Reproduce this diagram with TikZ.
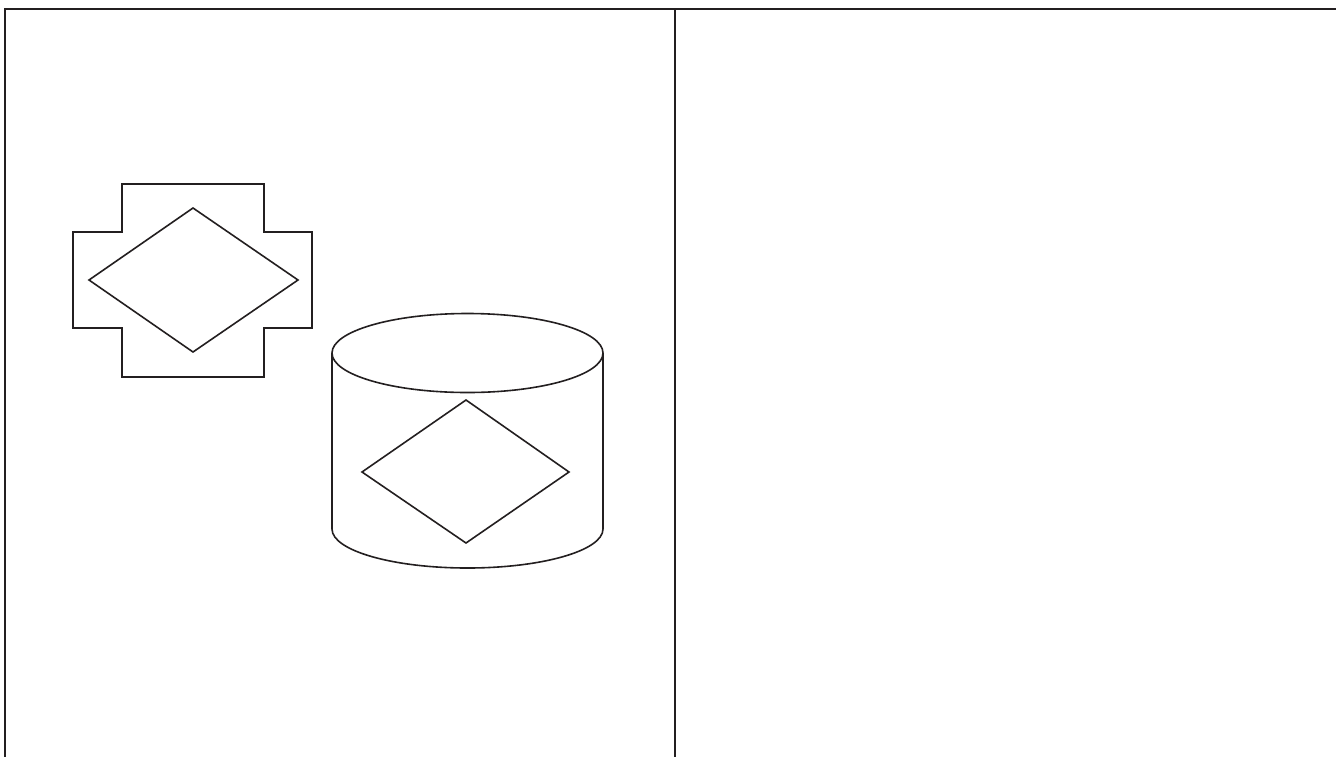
\documentclass[tikz,border=0pt]{standalone}
\definecolor{ink}{HTML}{231F20}
\tikzset{
  frame/.style={draw=ink, line width=2.5pt},
  shapeline/.style={draw=ink, line width=1.6pt, line join=miter},
}
\begin{document}
\begin{tikzpicture}[x=1pt,y=-1pt]
\useasboundingbox (0,0) rectangle (1336,756);
% frame
\coordinate (fbl) at (5,760);
\coordinate (ftl) at (5,9);
\coordinate (ftr) at (1340,9);
\coordinate (dtop) at (675,9);
\coordinate (dbot) at (675,760);
\draw[frame] (fbl) -- (ftl) -- (ftr);
\draw[frame] (dtop) -- (dbot);
% cross shape
\draw[shapeline] (122,184) -- (264,184) -- (264,232) -- (312,232) -- (312,328)
  -- (264,328) -- (264,377) -- (122,377) -- (122,328) -- (73,328) -- (73,232)
  -- (122,232) -- cycle;
\draw[shapeline] (193,208) -- (298,280) -- (193,352) -- (89,280) -- cycle;
% cylinder
\draw[shapeline] (467.5,353) ellipse [x radius=135.5, y radius=39.5];
\draw[shapeline] (332,353) -- (332,529) arc[start angle=180, end angle=360, x radius=135.5, y radius=-39] -- (603,353);
\draw[shapeline] (466,400) -- (569,472) -- (466,543) -- (362,472) -- cycle;
\end{tikzpicture}
\end{document}
